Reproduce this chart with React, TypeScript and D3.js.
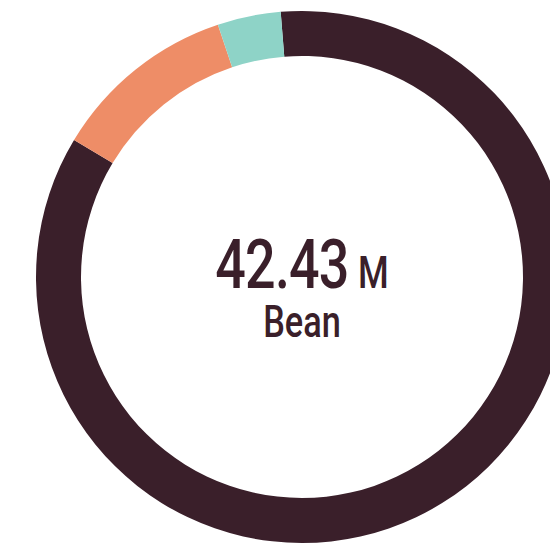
import React from "react";
import * as d3 from "d3";

const categories = ["Bean", "Corn", "Rice"];
const values = [42.43, 5.63, 1.92];
const colors = ["#3a1f2a", "#ee8d67", "#8ed3c7"];
const unit = "M";
const highlightIndex = 0;

const W = 550;
const H = 549;

export default function App() {
  const cx = 302;
  const cy = 277;
  const outerR = 266;
  const innerR = 221;
  const startDeg = -4.6;

  const pie = d3
    .pie<number>()
    .sort(null)
    .startAngle((startDeg * Math.PI) / 180)
    .endAngle(((startDeg + 360) * Math.PI) / 180);
  const arcs = pie(values);
  const arcGen = d3.arc<d3.PieArcDatum<number>>().innerRadius(innerR).outerRadius(outerR);

  const font = "Roboto, 'Liberation Sans', sans-serif";
  const textColor = colors[highlightIndex];

  return (
    <svg
      width={W}
      height={H}
      style={{ position: "absolute", left: 0, top: 0, background: "#fff" }}
    >
      <g transform={`translate(${cx},${cy})`}>
        {arcs.map((a, i) => (
          <path key={categories[i]} d={arcGen(a) || ""} fill={colors[i]} />
        ))}
        <g transform="scale(0.78,1)">
          <text
            x={0}
            y={11}
            textAnchor="middle"
            fontFamily={font}
            fontWeight={500}
            fill={textColor}
          >
            <tspan fontSize={69} letterSpacing={-1}>{values[highlightIndex].toFixed(2)}</tspan>
            <tspan fontSize={45} dx={12}>{unit}</tspan>
          </text>
          <text
            x={0}
            y={60}
            textAnchor="middle"
            fontFamily={font}
            fontWeight={500}
            fontSize={44}
            fill={textColor}
          >
            {categories[highlightIndex]}
          </text>
        </g>
      </g>
    </svg>
  );
}
